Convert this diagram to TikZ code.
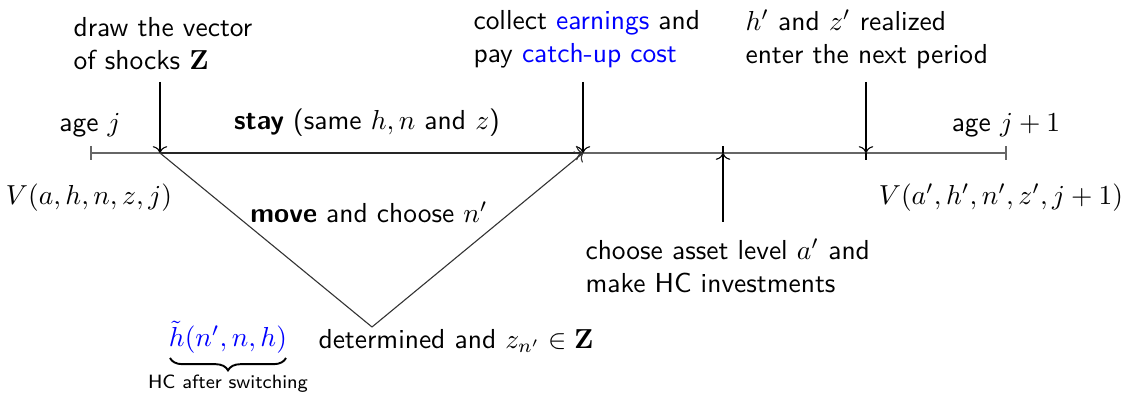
\documentclass[tikz,border=0pt]{standalone}
\usepackage{amsmath}
\usetikzlibrary{arrows.meta,decorations.pathreplacing}
\begin{document}
\begin{tikzpicture}[x=0.364pt,y=-0.364pt,
  txt/.style={font=\sffamily,inner sep=0pt,align=left},
  tl/.style={draw=black!60,line width=0.6pt},
  arr/.style={->,line width=0.4pt},
  diag/.style={draw=black!80,line width=0.4pt}]
\useasboundingbox (0,0) rectangle (1125,395);
% timeline points
\coordinate (t0) at (91,153);
\coordinate (t1) at (160,153);
\coordinate (t2) at (583,153);
\coordinate (t3) at (723,153);
\coordinate (t4) at (866,153);
\coordinate (t5) at (1006,153);
\coordinate (bot) at (372,327);
\coordinate (s1) at (160,82);
\coordinate (s2) at (583,82);
\coordinate (s4) at (866,82);
\coordinate (s3) at (723,222);
\coordinate (t0a) at (91,146);
\coordinate (t0b) at (91,160);
\coordinate (t5a) at (1006,146);
\coordinate (t5b) at (1006,160);
\coordinate (t4b) at (866,160);
\coordinate (t3a) at (723,146);
% timeline
\draw[tl] (t0) -- (t5);
\draw[tl] (t0a) -- (t0b);
\draw[tl] (t5a) -- (t5b);
\draw[line width=0.4pt] (t4) -- (t4b);
\draw[line width=0.4pt] (t3) -- (t3a);
% arrows
\draw[arr] (s1) -- (t1);
\draw[arr] (s2) -- (t2);
\draw[arr] (s4) -- (t4);
\draw[arr] (s3) -- (t3);
\draw[arr,black!85] (t1) -- (t2);
\draw[diag] (t1) -- (bot);
\draw[diag,->] (bot) -- (t2);
% texts
\node[txt,anchor=west] (shocks) at (73,44) {draw the vector\\of shocks $\mathbf{Z}$};
\node[txt,anchor=west] (collect) at (473,39) {collect \textcolor{blue}{earnings} and\\pay \textcolor{blue}{catch-up cost}};
\node[txt,anchor=west] (real) at (745,39) {$h'$ and $z'$ realized\\enter the next period};
\node[txt] (agej) at (90,125) {age $j$};
\node[txt] (stay) at (367,123) {\textbf{stay} (same $h,n$ and $z$)};
\node[txt] (agej1) at (1006,125) {age $j+1$};
\node[txt] (V1) at (89,198) {$V(a,h,n,z,j)$};
\node[txt] (V2) at (1001,198) {$V(a',h',n',z',j+1)$};
\node[txt] (move) at (369,212) {\textbf{move} and choose $n'$};
\node[txt,anchor=west] (choose) at (585,266) {choose asset level $a'$ and\\make HC investments};
\node[txt,text=blue] (ht) at (228,337) {$\tilde h(n',n,h)$};
\coordinate (bl) at (170,358);
\coordinate (br) at (286,358);
\draw[decorate,decoration={brace,mirror,amplitude=4.5pt},line width=0.7pt] (bl) -- (br);
\node[txt,font=\sffamily\scriptsize] (hcs) at (228,384) {HC after switching};
\node[txt,anchor=west] (det) at (318,341) {determined and $z_{n'}\in\mathbf{Z}$};
\end{tikzpicture}
\end{document}
